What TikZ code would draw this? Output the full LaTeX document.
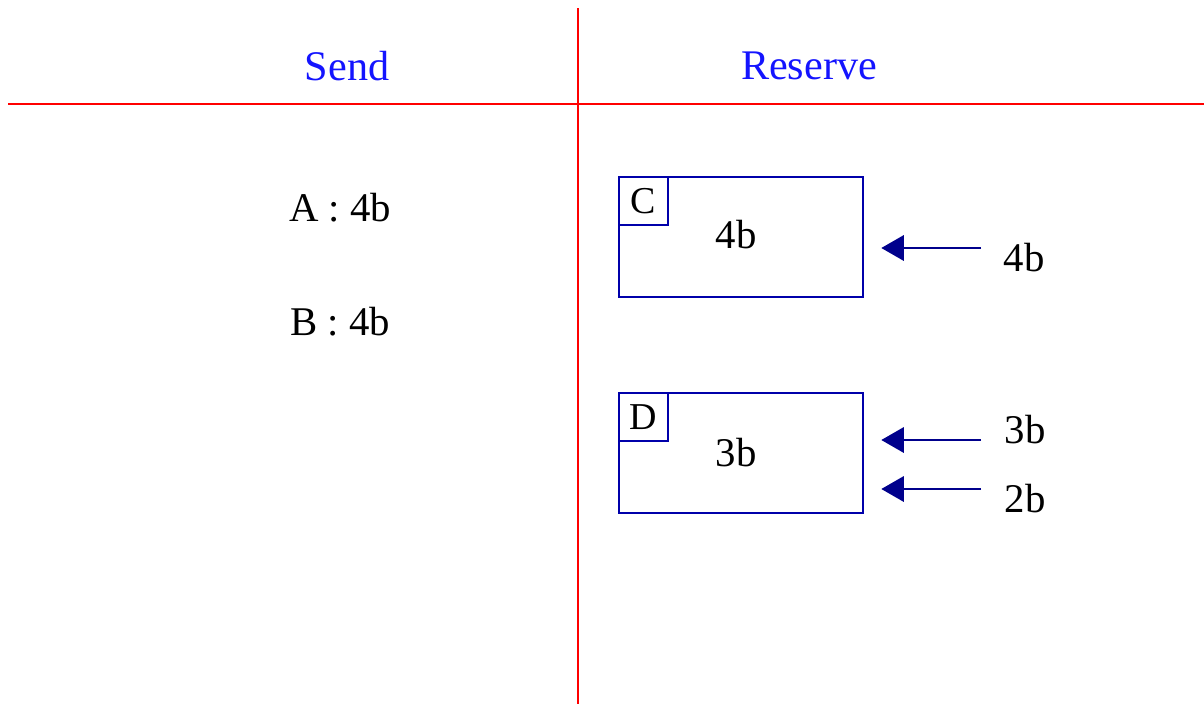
\documentclass[tikz,border=0pt]{standalone}
\usepackage{fontspec}
\setmainfont{Liberation Serif}
\usepackage{tikz}
\usetikzlibrary{positioning,arrows.meta}
\definecolor{LineRed}{RGB}{255,0,0}
\definecolor{HeadBlue}{RGB}{20,20,255}
\definecolor{BoxBlue}{RGB}{0,0,170}
\definecolor{ArrNavy}{RGB}{0,0,140}
\tikzset{
  sep/.style={draw=LineRed, line width=1.7pt},
  head/.style={font=\fontsize{30}{36}\selectfont, text=HeadBlue, inner sep=0pt},
  lbl/.style={font=\fontsize{29}{35}\selectfont, inner sep=0pt},
  rbox/.style={rectangle, draw=BoxBlue, line width=1.6pt, minimum width=6.1cm,
    minimum height=3cm, inner sep=0pt},
  tag/.style={rectangle, draw=BoxBlue, line width=1.6pt, minimum width=1.22cm,
    minimum height=1.2cm, inner sep=0pt, font=\fontsize{27}{32}\selectfont},
  arr/.style={-{Triangle[length=16pt, width=18pt]}, draw=ArrNavy, line width=1.6pt}
}

\begin{document}
\begin{tikzpicture}[x=0.025cm, y=-0.025cm]
  \useasboundingbox (0,0) rectangle (1204,704);
  % separators
  \coordinate (hl) at (8,104);
  \coordinate (hr) at (1204,104);
  \coordinate (vt) at (578,8);
  \coordinate (vb) at (578,704);
  \draw[sep] (hl) -- (hr);
  \draw[sep] (vt) -- (vb);
  \node[head] (send) at (347,66) {Send};
  \node[head] (res) at (809,66) {Reserve};
  % send side
  \node[lbl] (a) at (340,208) {A : 4b};
  \node[lbl] (b) at (340,322) {B : 4b};
  % reserve side
  \node[rbox, anchor=north west] (bc) at (618,176) {};
  \node[tag, anchor=north west] (tc) at (bc.north west) {C};
  \node[lbl] (vc) at (736,235) {4b};
  \node[rbox, anchor=north west] (bd) at (618,392) {};
  \node[tag, anchor=north west] (td) at (bd.north west) {D};
  \node[lbl] (vd) at (736,453) {3b};
  \node[lbl] (in1) at (1024,258) {4b};
  \node[lbl] (in2) at (1025,430) {3b};
  \node[lbl] (in3) at (1025,499) {2b};
  \coordinate (s1) at (981,248);
  \coordinate (s2) at (981,440);
  \coordinate (s3) at (981,489);
  \draw[arr, shorten >=17*0.025cm] (s1) -- (bc.east |- s1);
  \draw[arr, shorten >=17*0.025cm] (s2) -- (bd.east |- s2);
  \draw[arr, shorten >=17*0.025cm] (s3) -- (bd.east |- s3);
\end{tikzpicture}
\end{document}
